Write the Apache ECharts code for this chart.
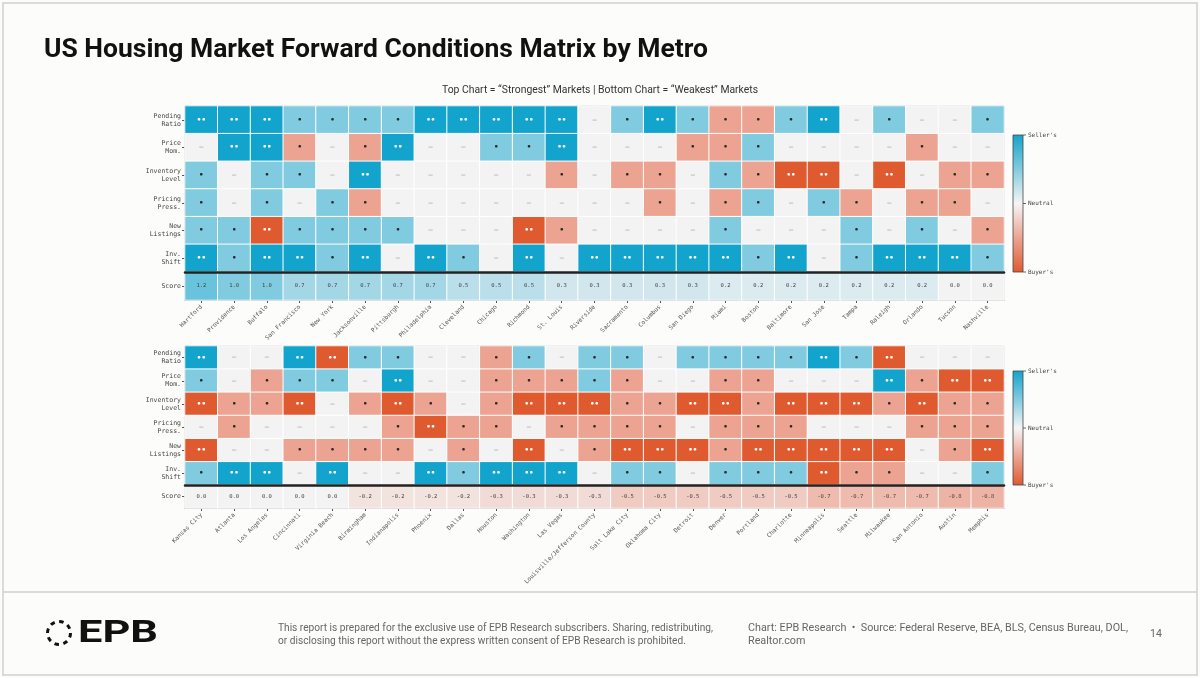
<!DOCTYPE html>
<html><head><meta charset="utf-8">
<script src="https://cdn.jsdelivr.net/npm/echarts/dist/echarts.min.js"></script>
<style>html,body{margin:0;padding:0;background:#fcfcfb}#c{width:1200px;height:678px}</style>
</head><body><div id="c"></div><script>
// ---------- data ----------
const rowLabels = ['Pending\nRatio','Price\nMom.','Inventory\nLevel','Pricing\nPress.','New\nListings','Inv.\nShift'];
const scoreLabel = ['Score'];
const legendLabels = ["Seller's", 'Neutral', "Buyer's"];

const topMetros = ['Hartford','Providence','Buffalo','San Francisco','New York','Jacksonville','Pittsburgh','Philadelphia','Cleveland','Chicago','Richmond','St. Louis','Riverside','Sacramento','Columbus','San Diego','Miami','Boston','Baltimore','San Jose','Tampa','Raleigh','Orlando','Tucson','Nashville'];
const topPending   = [2,2,2,1,1,1,1,2,2,2,2,2, 0,1,2,1,-1,-1,1,2,0,1,0,0,1];
const topPriceMom  = [0,2,2,-1,0,-1,2,0,0,1,1,2, 0,0,0,-1,-1,1,0,0,0,0,-1,0,0];
const topInventory = [1,0,1,1,0,2,0,0,0,0,0,-1, 0,-1,-1,0,1,-1,-2,-2,0,-2,0,-1,-1];
const topPricing   = [1,0,1,0,1,-1,0,0,0,0,0,0, 0,0,-1,0,-1,1,0,1,-1,0,-1,-1,0];
const topNewList   = [1,1,-2,1,1,1,1,0,0,0,-2,-1, 0,0,0,0,1,0,0,0,1,0,1,0,-1];
const topInvShift  = [2,1,2,2,1,2,0,2,1,0,2,0, 2,2,2,2,2,1,2,0,1,2,2,2,1];
const topScore     = [1.2,1.0,1.0,0.7,0.7,0.7,0.7,0.7,0.5,0.5,0.5,0.3,0.3,0.3,0.3,0.3,0.2,0.2,0.2,0.2,0.2,0.2,0.2,0.0,0.0];

const botMetros = ['Kansas City','Atlanta','Los Angeles','Cincinnati','Virginia Beach','Birmingham','Indianapolis','Phoenix','Dallas','Houston','Washington','Las Vegas','Louisville/Jefferson County','Salt Lake City','Oklahoma City','Detroit','Denver','Portland','Charlotte','Minneapolis','Seattle','Milwaukee','San Antonio','Austin','Memphis'];
const botPending   = [2,0,0,2,-2,1,1,0,0,-1,1,0, 1,1,0,1,1,1,1,2,1,-2,0,0,0];
const botPriceMom  = [1,0,-1,1,1,0,2,0,0,-1,-1,-1, 1,-1,0,0,-1,-1,0,0,0,2,-1,-2,-2];
const botInventory = [-2,-1,-1,-2,0,-1,-2,-1,0,-1,-2,-2, -2,-1,-1,-2,-2,-1,-2,-2,-2,-1,-2,-1,-1];
const botPricing   = [0,-1,0,0,0,0,-1,-2,-1,-1,0,-1, -1,-1,-1,0,-1,-1,-1,0,0,0,-1,-1,-1];
const botNewList   = [-2,0,0,-1,-1,-1,-1,0,-1,0,-2,0, -1,-2,-2,-2,-1,-2,-2,-2,-2,-2,0,-1,-2];
const botInvShift  = [1,2,2,0,2,0,0,2,1,2,2,2, 0,1,1,0,1,1,1,-2,-1,-1,0,0,1];
const botScore     = [0.0,0.0,0.0,0.0,0.0,-0.2,-0.2,-0.2,-0.2,-0.3,-0.3,-0.3,-0.3,-0.5,-0.5,-0.5,-0.5,-0.5,-0.5,-0.7,-0.7,-0.7,-0.7,-0.8,-0.8];

// ---------- styling ----------
const DARK_BLUE='#12a4cc', LIGHT_BLUE='#80cbe0', NEUTRAL='#f3f3f3', LIGHT_RED='#eca391', DARK_RED='#e05a2f';
const MONO='DejaVu Sans Mono', SANS='Roboto';

function matrixData(rows){
  const d=[];
  rows.forEach((row,yi)=>row.forEach((v,xi)=>{
    const a=Math.abs(v);
    d.push({value:[xi,yi,v],label:{color:a===2?'#ffffff':(a===1?'#2a2a2a':'#b8b8b8'),fontSize:a===0?7:7.5}});
  }));
  return d;
}
function scoreData(arr){return arr.map((v,i)=>[i,0,v]);}
function fit(text,font,target){const c=document.createElement('canvas').getContext('2d');c.font=font;return target/c.measureText(text).width;}

const L=185, W=819;
const grids=[
  {left:L,top:106,width:W,height:166},
  {left:L,top:272,width:W,height:28},
  {left:L,top:346,width:W,height:139},
  {left:L,top:485,width:W,height:23}
].map(g=>Object.assign(g,{show:true,borderColor:'#666',borderWidth:1,backgroundColor:'transparent'}));

function xAx(i,data,isScore){
  return isScore?{
    type:'category',gridIndex:i,data:data,
    axisLine:{show:true,lineStyle:{color:'#666',width:1}},
    axisTick:{show:true,alignWithLabel:true,length:3,lineStyle:{color:'#555'}},
    axisLabel:{interval:0,rotate:45,fontSize:6,fontFamily:MONO,color:'#555',margin:6},
    splitLine:{show:false}
  }:{
    type:'category',gridIndex:i,data:data,z:10,
    axisLine:{show:true,lineStyle:{color:'#222',width:2.5}},
    axisTick:{show:false},axisLabel:{show:false},splitLine:{show:false}
  };
}
function yAx(i,data){
  return {type:'category',gridIndex:i,data:data,inverse:true,
    axisLine:{show:true,lineStyle:{color:'#666'}},
    axisTick:{show:true,alignWithLabel:true,length:3,lineStyle:{color:'#555'}},
    axisLabel:{fontSize:6.5,fontFamily:MONO,color:'#444',margin:4,lineHeight:8,align:'right'},
    splitLine:{show:false}};
}
const symFmt=p=>{const a=Math.abs(p.value[2]);return a===2?'••':(a===1?'•':'–');};
function matSeries(i,data){
  return {type:'heatmap',xAxisIndex:i,yAxisIndex:i,data:data,
    itemStyle:{borderColor:'#ffffff',borderWidth:1},
    label:{show:true,formatter:symFmt,fontFamily:MONO,fontWeight:'bold'},
    emphasis:{disabled:true}};
}
function scoreSeries(i,data){
  return {type:'heatmap',xAxisIndex:i,yAxisIndex:i,data:data,
    itemStyle:{borderColor:'#ffffff',borderWidth:1},
    label:{show:true,formatter:p=>p.value[2].toFixed(1),fontFamily:MONO,fontSize:5.5,color:'#444'},
    emphasis:{disabled:true}};
}

function colorbar(y0,h){
  const grad=new echarts.graphic.LinearGradient(0,0,0,1,[
    {offset:0,color:DARK_BLUE},{offset:0.25,color:LIGHT_BLUE},{offset:0.5,color:'#f5f5f5'},
    {offset:0.75,color:LIGHT_RED},{offset:1,color:DARK_RED}]);
  const els=[{type:'rect',shape:{x:1013,y:y0,width:10,height:h},style:{fill:grad,stroke:'#444',lineWidth:0.8},silent:true}];
  [0,0.5,1].forEach((f,k)=>{
    const y=y0+h*f;
    els.push({type:'line',shape:{x1:1023,y1:y,x2:1026,y2:y},style:{stroke:'#444',lineWidth:0.8},silent:true});
    els.push({type:'text',x:1028,y:y,style:{text:legendLabels[k],font:'6px "'+MONO+'"',fill:'#444',verticalAlign:'middle'},silent:true});
  });
  return els;
}

const titleText='US Housing Market Forward Conditions Matrix by Metro';
const titleFont='bold 26px '+SANS;
const subText='Top Chart = “Strongest” Markets | Bottom Chart = “Weakest” Markets';
const subFont='10.5px '+SANS;
const f1='This report is prepared for the exclusive use of EPB Research subscribers. Sharing, redistributing,';
const f2='or disclosing this report without the express written consent of EPB Research is prohibited.';
const f3='Chart: EPB Research  •  Source: Federal Reserve, BEA, BLS, Census Bureau, DOL,';
const f4='Realtor.com';
const footFont='10.5px '+SANS;
const sFoot=fit(f1,footFont,435), sFoot2=fit(f3,footFont,380);
const logoFont='bold 31px '+SANS;

const graphics=[
  {type:'rect',shape:{x:3,y:3,width:1194,height:672},style:{fill:'none',stroke:'#cfcfcf',lineWidth:1.5},silent:true},
  {type:'line',shape:{x1:3,y1:592,x2:1197,y2:592},style:{stroke:'#cfcfcf',lineWidth:1.5},silent:true},
  {type:'text',x:44,y:50,scaleX:fit(titleText,titleFont,664),style:{text:titleText,font:titleFont,fill:'#111',verticalAlign:'middle'},silent:true},
  {type:'text',x:600,y:90,scaleX:fit(subText,subFont,316),style:{text:subText,font:subFont,fill:'#333',align:'center',verticalAlign:'middle'},silent:true},
  {type:'text',x:278,y:628,scaleX:sFoot,style:{text:f1,font:footFont,fill:'#666',verticalAlign:'middle'},silent:true},
  {type:'text',x:278,y:641,scaleX:sFoot,style:{text:f2,font:footFont,fill:'#666',verticalAlign:'middle'},silent:true},
  {type:'text',x:748,y:628,scaleX:sFoot2,style:{text:f3,font:footFont,fill:'#666',verticalAlign:'middle'},silent:true},
  {type:'text',x:748,y:641,scaleX:sFoot2,style:{text:f4,font:footFont,fill:'#666',verticalAlign:'middle'},silent:true},
  {type:'text',x:1150,y:634,style:{text:'14',font:footFont,fill:'#666',verticalAlign:'middle'},silent:true},
  {type:'circle',shape:{cx:59,cy:633,r:11.5},style:{fill:'none',stroke:'#111',lineWidth:3,lineDash:[4.5,4.5]},silent:true},
  {type:'text',x:78,y:634,scaleX:fit('EPB',logoFont,80),style:{text:'EPB',font:logoFont,fill:'#111',verticalAlign:'middle'},silent:true}
].concat(colorbar(135,137)).concat(colorbar(371,114));

const chart=echarts.init(document.getElementById('c'));
chart.setOption({
  backgroundColor:'#fcfcfb',
  animation:false,
  grid:grids,
  xAxis:[xAx(0,topMetros,false),xAx(1,topMetros,true),xAx(2,botMetros,false),xAx(3,botMetros,true)],
  yAxis:[yAx(0,rowLabels),yAx(1,scoreLabel),yAx(2,rowLabels),yAx(3,scoreLabel)],
  visualMap:[{type:'continuous',show:false,min:-2,max:2,seriesIndex:[0,1,2,3],
    inRange:{color:[DARK_RED,LIGHT_RED,NEUTRAL,LIGHT_BLUE,DARK_BLUE]}}],
  series:[
    matSeries(0,matrixData([topPending,topPriceMom,topInventory,topPricing,topNewList,topInvShift])),
    scoreSeries(1,scoreData(topScore)),
    matSeries(2,matrixData([botPending,botPriceMom,botInventory,botPricing,botNewList,botInvShift])),
    scoreSeries(3,scoreData(botScore))
  ],
  graphic:graphics
});
</script></body></html>
